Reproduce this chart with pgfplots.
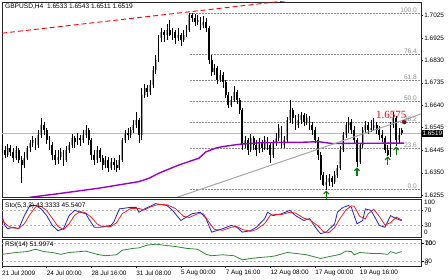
\documentclass[border=0pt]{standalone}
\usepackage{fontspec}
\setmainfont{Liberation Sans}
\newfontfamily\redserif{Liberation Serif}
\usepackage{pgfplots}
\usepackage{pgfplotstable}
\pgfplotsset{compat=1.18}

\definecolor{mtpurple}{HTML}{9A00D0}
\definecolor{mtgreen}{HTML}{0A7A0A}
\definecolor{rsigreen}{HTML}{2E8B2E}
\definecolor{stoblue}{HTML}{2020E0}
\definecolor{stored}{HTML}{F02020}
\definecolor{fibgrey}{HTML}{8C8C8C}
\definecolor{bullbody}{HTML}{9C9C9C}
\definecolor{dotred}{HTML}{8B0A0A}

\pgfdeclareplotmark{uparr}{%
  \pgfpathmoveto{\pgfqpoint{0pt}{-8pt}}%
  \pgfpathlineto{\pgfqpoint{0pt}{-0.5pt}}%
  \pgfusepathqstroke
  \pgfpathmoveto{\pgfqpoint{-2.6pt}{-3pt}}%
  \pgfpathlineto{\pgfqpoint{0pt}{-0.3pt}}%
  \pgfpathlineto{\pgfqpoint{2.6pt}{-3pt}}%
  \pgfusepathqstroke
}

\pgfplotstableread{
i o h l c
0 1.6469 1.6512 1.6435 1.6447
1 1.6447 1.6465 1.6413 1.6426
2 1.6426 1.6473 1.6418 1.6456
3 1.6456 1.6469 1.6422 1.6439
4 1.6439 1.6456 1.6396 1.6413
5 1.6413 1.6465 1.6405 1.6447
6 1.6447 1.6456 1.6392 1.6405
7 1.6405 1.6422 1.6306 1.6383
8 1.6383 1.6439 1.6371 1.6413
9 1.6413 1.6465 1.6405 1.6456
10 1.6456 1.6490 1.6439 1.6477
11 1.6477 1.6507 1.6460 1.6490
12 1.6490 1.6499 1.6447 1.6469
13 1.6469 1.6533 1.6456 1.6512
14 1.6512 1.6584 1.6499 1.6554
15 1.6554 1.6567 1.6512 1.6533
16 1.6533 1.6542 1.6473 1.6490
17 1.6490 1.6507 1.6447 1.6469
18 1.6469 1.6482 1.6405 1.6426
19 1.6426 1.6447 1.6383 1.6405
20 1.6405 1.6447 1.6388 1.6418
21 1.6418 1.6456 1.6405 1.6439
22 1.6439 1.6447 1.6379 1.6405
23 1.6405 1.6465 1.6396 1.6447
24 1.6447 1.6482 1.6435 1.6469
25 1.6469 1.6516 1.6456 1.6499
26 1.6499 1.6507 1.6456 1.6482
27 1.6482 1.6520 1.6469 1.6499
28 1.6499 1.6512 1.6465 1.6490
29 1.6490 1.6533 1.6477 1.6512
30 1.6512 1.6554 1.6499 1.6533
31 1.6533 1.6542 1.6469 1.6490
32 1.6490 1.6499 1.6405 1.6426
33 1.6426 1.6447 1.6383 1.6405
34 1.6405 1.6465 1.6392 1.6447
35 1.6447 1.6456 1.6396 1.6413
36 1.6413 1.6426 1.6362 1.6383
37 1.6383 1.6422 1.6371 1.6405
38 1.6405 1.6418 1.6353 1.6371
39 1.6371 1.6413 1.6362 1.6396
40 1.6396 1.6413 1.6362 1.6383
41 1.6383 1.6405 1.6353 1.6371
42 1.6371 1.6426 1.6362 1.6405
43 1.6405 1.6499 1.6396 1.6490
44 1.6490 1.6533 1.6477 1.6520
45 1.6520 1.6542 1.6490 1.6512
46 1.6512 1.6546 1.6499 1.6533
47 1.6533 1.6576 1.6520 1.6554
48 1.6554 1.6610 1.6542 1.6576
49 1.6576 1.6584 1.6477 1.6512
50 1.6512 1.6713 1.6490 1.6683
51 1.6683 1.6730 1.6670 1.6713
52 1.6713 1.6725 1.6674 1.6696
53 1.6696 1.6747 1.6683 1.6725
54 1.6725 1.6807 1.6713 1.6790
55 1.6790 1.6854 1.6772 1.6832
56 1.6832 1.6939 1.6824 1.6926
57 1.6926 1.6969 1.6909 1.6952
58 1.6952 1.6961 1.6909 1.6939
59 1.6939 1.6986 1.6918 1.6961
60 1.6961 1.7003 1.6935 1.6939
61 1.6939 1.6969 1.6918 1.6952
62 1.6952 1.6961 1.6901 1.6926
63 1.6926 1.6969 1.6914 1.6939
64 1.6939 1.6948 1.6892 1.6918
65 1.6918 1.6961 1.6909 1.6939
66 1.6939 1.6982 1.6931 1.6961
67 1.6961 1.7033 1.6952 1.7025
68 1.7025 1.7033 1.6995 1.7012
69 1.7012 1.7029 1.6978 1.6995
70 1.6995 1.7025 1.6982 1.7003
71 1.7003 1.7016 1.6961 1.6982
72 1.6982 1.7021 1.6969 1.6995
73 1.6995 1.7012 1.6952 1.6969
74 1.6969 1.6978 1.6815 1.6832
75 1.6832 1.6854 1.6764 1.6781
76 1.6781 1.6815 1.6768 1.6798
77 1.6798 1.6807 1.6730 1.6747
78 1.6747 1.6790 1.6738 1.6768
79 1.6768 1.6781 1.6713 1.6738
80 1.6738 1.6747 1.6670 1.6683
81 1.6683 1.6696 1.6627 1.6640
82 1.6640 1.6678 1.6631 1.6661
83 1.6661 1.6721 1.6653 1.6696
84 1.6696 1.6704 1.6644 1.6661
85 1.6661 1.6670 1.6601 1.6619
86 1.6619 1.6627 1.6447 1.6469
87 1.6469 1.6507 1.6456 1.6490
88 1.6490 1.6499 1.6426 1.6447
89 1.6447 1.6516 1.6439 1.6499
90 1.6499 1.6507 1.6447 1.6469
91 1.6469 1.6490 1.6422 1.6447
92 1.6447 1.6499 1.6435 1.6482
93 1.6482 1.6490 1.6439 1.6456
94 1.6456 1.6507 1.6447 1.6490
95 1.6490 1.6503 1.6447 1.6469
96 1.6469 1.6477 1.6392 1.6426
97 1.6426 1.6490 1.6413 1.6482
98 1.6482 1.6520 1.6465 1.6499
99 1.6499 1.6559 1.6486 1.6542
100 1.6542 1.6550 1.6456 1.6469
101 1.6469 1.6507 1.6456 1.6490
102 1.6490 1.6589 1.6482 1.6576
103 1.6576 1.6661 1.6563 1.6619
104 1.6619 1.6627 1.6559 1.6584
105 1.6584 1.6597 1.6533 1.6554
106 1.6554 1.6601 1.6542 1.6576
107 1.6576 1.6610 1.6559 1.6597
108 1.6597 1.6606 1.6550 1.6567
109 1.6567 1.6601 1.6554 1.6584
110 1.6584 1.6593 1.6533 1.6554
111 1.6554 1.6567 1.6512 1.6533
112 1.6533 1.6546 1.6477 1.6490
113 1.6490 1.6503 1.6405 1.6426
114 1.6426 1.6439 1.6319 1.6341
115 1.6341 1.6353 1.6294 1.6298
116 1.6298 1.6341 1.6276 1.6311
117 1.6311 1.6345 1.6294 1.6328
118 1.6328 1.6336 1.6289 1.6311
119 1.6311 1.6358 1.6302 1.6341
120 1.6341 1.6383 1.6328 1.6371
121 1.6371 1.6465 1.6362 1.6447
122 1.6447 1.6524 1.6439 1.6512
123 1.6512 1.6567 1.6499 1.6554
124 1.6554 1.6589 1.6520 1.6567
125 1.6567 1.6580 1.6516 1.6533
126 1.6533 1.6550 1.6477 1.6490
127 1.6490 1.6499 1.6375 1.6396
128 1.6396 1.6477 1.6388 1.6469
129 1.6469 1.6546 1.6456 1.6533
130 1.6533 1.6571 1.6520 1.6554
131 1.6554 1.6567 1.6516 1.6533
132 1.6533 1.6576 1.6524 1.6542
133 1.6542 1.6584 1.6529 1.6554
134 1.6554 1.6567 1.6516 1.6533
135 1.6533 1.6550 1.6490 1.6512
136 1.6512 1.6533 1.6482 1.6499
137 1.6499 1.6507 1.6435 1.6447
138 1.6447 1.6469 1.6422 1.6426
139 1.6426 1.6567 1.6418 1.6554
140 1.6554 1.6610 1.6542 1.6584
141 1.6584 1.6593 1.6465 1.6490
142 1.6490 1.6542 1.6477 1.6512
143 1.6533 1.6543 1.6511 1.6519
}\ohlc

\pgfplotstableread{
i v
0 57
1 31
2 22
4 26
6 22
8 57
10 84
12 84
14 75
16 57
18 31
20 17
22 22
24 57
26 71
28 66
30 62
31 49
33 26
35 26
39 31
40 40
42 75
46 79
48 79
49 66
51 75
55 89
59 84
61 71
64 44
65 49
68 62
71 66
73 49
75 13
79 22
82 31
84 26
86 13
89 17
91 26
94 49
95 66
97 57
100 62
103 71
105 57
108 44
110 49
113 17
114 9
116 13
119 35
120 66
122 79
124 84
125 79
127 35
129 44
130 75
132 71
135 31
137 26
139 57
141 49
143 43.33
}\stomain

\pgfplotstableread{
i v
0 45
2 30
4 24
6 23
8 35
10 60
12 80
14 82
16 70
18 50
20 28
22 20
24 35
26 58
28 68
30 64
32 52
34 35
36 27
39 28
41 38
43 62
46 76
49 76
51 72
53 80
56 87
59 86
62 76
65 55
67 52
70 62
72 62
74 40
76 20
79 18
82 26
84 28
86 20
89 15
91 20
94 36
96 58
98 60
100 60
103 66
105 64
108 50
110 46
113 30
115 14
117 12
119 25
121 50
123 72
125 83
126 82
128 55
130 48
131 62
133 74
135 55
137 32
139 38
141 53
143 45.54
}\stosig

\pgfplotstableread{
i v
0 46
5 50
9 52
12 57
15 52
18 50
21 46
24 50
28 52
30 53
34 46
37 43
41 45
43 55
47 59
49 60
52 66
55 68
59 65
62 63
66 59
70 57
73 46
75 43
79 45
83 43
86 34
89 37
92 39
96 41
98 43
102 50
105 48
109 45
114 37
117 41
121 46
123 53
125 52
126 45
128 50
132 48
135 48
138 46
139 52
141 48
143 52
}\rsi

\pgfplotsset{
  mtpanel/.style={
    scale only axis, width=419pt, anchor=south west,
    xmin=0, xmax=149.9,
    axis line style={line width=0.8pt, black!85},
    xtick=\empty,
    ytick pos=right, yticklabel pos=right,
    tick align=outside, major tick length=2pt,
    tick style={black, line width=0.5pt},
    tick label style={font=\fontsize{6.4}{7}\selectfont, inner sep=1.2pt},
    yticklabel style={anchor=west},
    clip=true,
  },
  levelline/.style={color=black!30, line width=0.5pt, dash pattern=on 2pt off 2pt, forget plot},
  fibline/.style={color=fibgrey, line width=0.5pt, dash pattern=on 1.5pt off 1.5pt, forget plot},
}

\newcommand{\lblfont}{\fontsize{6.6}{7}\selectfont}

\begin{document}
\begin{tikzpicture}
\path[fill=white] (0pt,0pt) rectangle (448pt,280pt);

% ---------- main price panel ----------
\begin{axis}[mtpanel, at={(2pt,83pt)}, height=195pt,
  ymin=1.62464, ymax=1.70804,
  ytick={1.6255,1.6350,1.6445,1.6545,1.6640,1.6735,1.6830,1.6925,1.7025},
  yticklabels={1.6255,1.6350,1.6445,1.6545,1.6640,1.6735,1.6830,1.6925,1.7025}]
\addplot[color=black!28, line width=0.6pt, forget plot] coordinates {(0,1.6519) (149.9,1.6519)};
\addplot[fibline] coordinates {(67.4,1.6278) (149.9,1.6278)};
\addplot[fibline] coordinates {(67.4,1.6456) (149.9,1.6456)};
\addplot[fibline] coordinates {(67.4,1.6566) (149.9,1.6566)};
\addplot[fibline] coordinates {(67.4,1.6656) (149.9,1.6656)};
\addplot[fibline] coordinates {(67.4,1.6745) (149.9,1.6745)};
\addplot[fibline] coordinates {(67.4,1.6855) (149.9,1.6855)};
\addplot[fibline] coordinates {(67.4,1.7033) (149.9,1.7033)};
\addplot[draw=none, mark=none, forget plot,
  restrict expr to domain={\thisrow{c}-\thisrow{o}}{0:1},
  error bars/.cd, y dir=plus, y explicit, error mark=none,
  error bar style={draw=bullbody, line width=1.9pt}]
  table[x=i, y expr={min(\thisrow{o},\thisrow{c})}, y error plus expr={abs(\thisrow{c}-\thisrow{o})}] \ohlc;
\addplot[draw=none, mark=none, forget plot,
  restrict expr to domain={\thisrow{c}-\thisrow{o}}{-1:0},
  error bars/.cd, y dir=plus, y explicit, error mark=none,
  error bar style={draw=black, line width=1.9pt}]
  table[x=i, y expr={min(\thisrow{o},\thisrow{c})}, y error plus expr={abs(\thisrow{c}-\thisrow{o})}] \ohlc;
\addplot[draw=none, mark=none, forget plot,
  error bars/.cd, y dir=plus, y explicit, error mark=none,
  error bar style={draw=black, line width=0.55pt}]
  table[x=i, y=l, y error plus expr={\thisrow{h}-\thisrow{l}}] \ohlc;
\addplot[color=mtpurple, line width=1.4pt, mark=none] coordinates {
(6.1,1.6236) (10.7,1.6246) (20.4,1.6261) (34.6,1.6284) (48.9,1.6312) (52.5,1.6326)
(56.1,1.6348) (63.2,1.6383) (70.4,1.6412) (72.9,1.6439) (76.3,1.6455) (78.9,1.6462)
(85.7,1.6473) (93.2,1.6479) (98.9,1.6480) (106.1,1.6480) (113.2,1.6483) (118.2,1.6475)
(123.9,1.6476) (128.9,1.6476) (143.9,1.6477)};
\addplot[color=black!35, line width=1pt, mark=none] coordinates {(60.4,1.6236) (149.9,1.6601)};
\addplot[color=red, line width=0.9pt, dash pattern=on 5pt off 3pt, mark=none] coordinates {(0,1.6947) (110,1.7097)};
\addplot[only marks, mark=uparr, color=mtgreen, line width=1.1pt] coordinates {(116,1.6272) (127,1.6371) (138,1.6418) (141,1.6460)};
\addplot[only marks, mark=*, mark size=2pt, color=dotred] coordinates {(143.9,1.6567)};
\coordinate (pbox) at (axis cs:149.9,1.6519);
\coordinate (f0) at (axis cs:148.7,1.6278);
\coordinate (f1) at (axis cs:148.7,1.6456);
\coordinate (f2) at (axis cs:148.7,1.6566);
\coordinate (f3) at (axis cs:148.7,1.6656);
\coordinate (f4) at (axis cs:148.7,1.6745);
\coordinate (f5) at (axis cs:148.7,1.6855);
\coordinate (f6) at (axis cs:148.7,1.7033);
\coordinate (redlbl) at (axis cs:139.3,1.6597);
\end{axis}

\foreach \p/\t in {f0/0.0,f1/23.6,f2/38.2,f3/50.0,f4/61.8,f5/76.4,f6/100.0}
  \node[anchor=south east, inner sep=0.6pt, text=fibgrey, font=\lblfont] at (\p) {\t};
\node[text=red, font=\redserif\fontsize{11}{12}\selectfont, inner sep=0pt] at (redlbl) {1.6575};
\node[anchor=west, fill=black, text=white, inner sep=1pt, font=\fontsize{6.4}{7}\selectfont] at ([xshift=0.4pt]pbox) {1.6519};
\node[anchor=west, inner sep=0pt, font=\lblfont] at (5pt,273pt) {GBPUSD,H4\ \ 1.6533 1.6543 1.6511 1.6519};

% ---------- stochastic panel ----------
\begin{axis}[mtpanel, at={(2pt,43pt)}, height=37.5pt,
  ymin=0, ymax=100, ytick={30,70}, yticklabels={30,70}]
\addplot[levelline] coordinates {(0,70) (149.9,70)};
\addplot[levelline] coordinates {(0,30) (149.9,30)};
\addplot[color=stoblue, line width=0.8pt, mark=none] table[x=i, y=v] \stomain;
\addplot[color=stored, line width=0.8pt, mark=none] table[x=i, y=v] \stosig;
\coordinate (stoTR) at (rel axis cs:1,1);
\coordinate (stoBR) at (rel axis cs:1,0);
\end{axis}
\node[anchor=north west, inner sep=1pt, font=\fontsize{6.4}{7}\selectfont] at ([xshift=2pt,yshift=0.5pt]stoTR) {100};
\node[anchor=south west, inner sep=1pt, font=\fontsize{6.4}{7}\selectfont] at ([xshift=2pt,yshift=1pt]stoBR) {0};
\node[anchor=west, inner sep=0pt, font=\lblfont] at (5pt,74pt) {Sto(5,3,3) 43.3333 45.5407};

% ---------- RSI panel ----------
\begin{axis}[mtpanel, at={(2pt,14pt)}, height=27pt,
  ymin=20.7, ymax=79.3, ytick={30,70}, yticklabels={30,70},
  xtick={0,16,32,48,64,80,96,112,128},
  xticklabels={21 Jul 2009,24 Jul 00:00,28 Jul 16:00,31 Jul 08:00,5 Aug 00:00,7 Aug 16:00,12 Aug 08:00,17 Aug 00:00,19 Aug 16:00},
  xtick pos=bottom, xticklabel pos=bottom,
  xticklabel style={anchor=north west, xshift=-1.2pt, yshift=-0.5pt},
  major tick length=2.5pt]
\addplot[levelline] coordinates {(0,70) (149.9,70)};
\addplot[levelline] coordinates {(0,30) (149.9,30)};
\addplot[color=rsigreen, line width=0.8pt, mark=none] table[x=i, y=v] \rsi;
\coordinate (r70) at (axis cs:149.9,70);
\coordinate (r30) at (axis cs:149.9,30);
\end{axis}
\node[anchor=west, inner sep=1pt, font=\fontsize{6.4}{7}\selectfont] at ([xshift=3pt,yshift=-0.5pt]r70) {100};
\node[anchor=west, inner sep=1pt, font=\fontsize{6.4}{7}\selectfont] at ([xshift=2.5pt,yshift=-2pt]r30) {0};
\node[anchor=west, inner sep=0pt, font=\lblfont] at (5pt,35pt) {RSI(14) 51.9974};
\end{tikzpicture}
\end{document}
